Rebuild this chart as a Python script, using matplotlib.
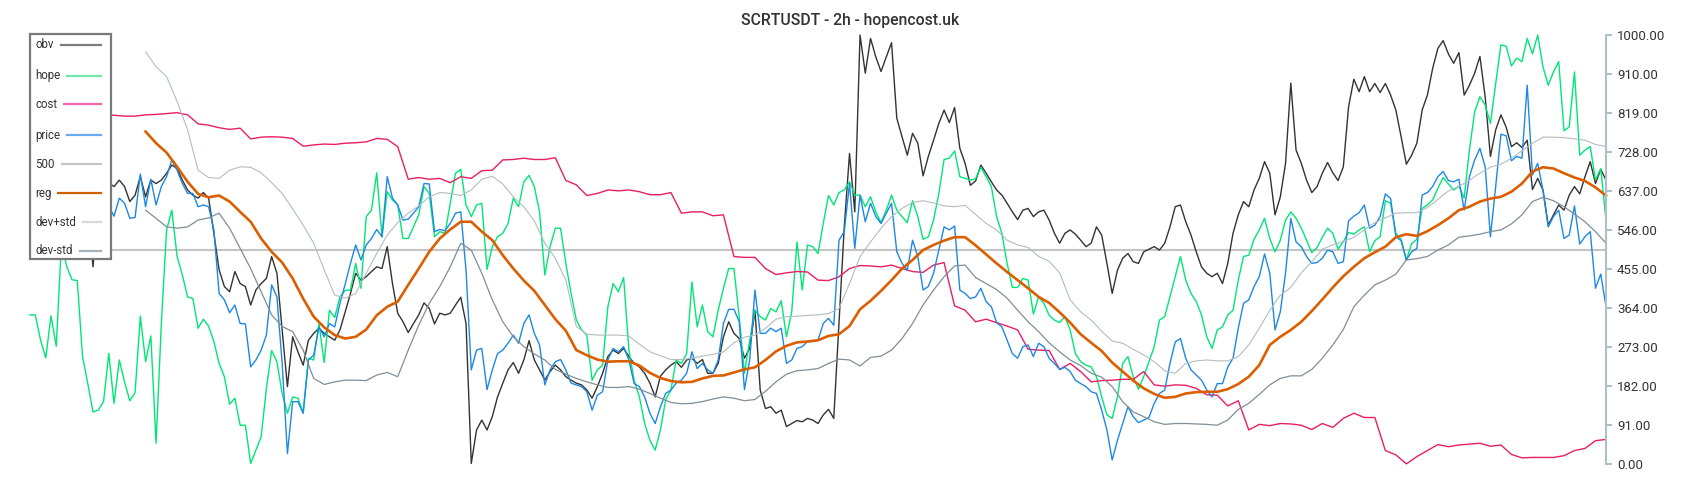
import matplotlib
matplotlib.use("Agg")
import matplotlib.pyplot as plt
from matplotlib.patches import Rectangle
from matplotlib.lines import Line2D
import numpy as np

# === DATA ===
TITLE = "SCRTUSDT - 2h - hopencost.uk"
LEVEL_500 = 500
Y_TICKS = [0, 91, 182, 273, 364, 455, 546, 637, 728, 819, 910, 1000]

# full resolution series (301 bars)
obv = [
    640, 655, 650, 665, 630, 660, 670, 645, 650, 680,
    690, 600, 460, 620, 640, 655, 647, 662, 647, 612,
    627, 670, 623, 662, 654, 662, 678, 697, 689, 662,
    639, 627, 620, 633, 620, 538, 453, 414, 402, 449,
    421, 414, 371, 406, 421, 433, 484, 445, 313, 181,
    297, 262, 231, 289, 305, 317, 305, 297, 289, 313,
    355,
    398, 445, 429, 437, 449, 460, 456, 507, 421,
    352, 332, 307, 328, 348, 376, 363, 327, 352, 348,
    352, 371, 389, 328, 2, 80, 103, 80, 111, 157,
    189, 220, 237, 212, 243, 288, 243, 220, 196, 216,
    231, 220, 204, 196, 189, 185, 173, 154, 181, 212,
    251, 266, 258, 270, 251, 235, 227, 212, 189, 157,
    205,
    220, 231, 239, 226, 243, 247, 235, 244, 212,
    212, 235, 297, 332, 305, 293, 247, 270, 359, 173,
    130, 134, 119, 126, 88, 95, 102, 99, 107, 103,
    95, 115, 128, 107, 328, 553, 724, 588, 1000, 911,
    992, 949, 915, 949, 982, 806, 763, 720, 771, 748,
    672, 717, 755, 794, 825, 796, 831, 736, 701, 650,
    660,
    697, 678, 658, 639, 627, 608, 588, 570, 592,
    596, 577, 588, 592, 569, 538, 515, 538, 546, 536,
    522, 507, 515, 553, 534, 468, 398, 452, 480, 491,
    472, 468, 495, 501, 507, 499, 515, 553, 600, 604,
    565, 534, 495, 460, 445, 437, 445, 421, 468, 538,
    581, 612, 600, 639, 666, 705, 678, 581, 623, 701,
    888,
    732, 701, 662, 633, 647, 678, 703, 679, 661,
    693, 833, 897, 868, 903, 868, 887, 866, 887, 860,
    825, 763, 699, 720, 748, 825, 860, 922, 969, 987,
    956, 934, 959, 860, 883, 911, 950, 856, 717, 779,
    814, 785, 740, 749, 738, 755, 640, 666, 639, 557,
    581, 604, 592, 627, 647, 630, 670, 705, 654, 687,
    662]

hope = [
    348, 348, 290, 248, 346, 275, 520, 460, 430, 428,
    251, 188, 122, 126, 146, 258, 142, 243, 192, 148,
    167, 345, 239, 299, 49, 328, 546, 592, 484, 441,
    390, 386, 317, 338, 322, 286, 235, 204, 140, 154,
    91, 91, 2, 33, 64, 177, 265, 239, 165, 119,
    157, 154, 120, 247, 243, 328, 237, 359, 342, 390,
    405,
    406, 468, 410, 577, 592, 679, 530, 635, 616,
    604, 526, 526, 553, 581, 647, 631, 530, 542, 538,
    608, 678, 687, 604, 577, 604, 608, 454, 507, 530,
    538, 561, 620, 600, 658, 673, 647, 588, 441, 507,
    550, 550, 468, 398, 336, 313, 301, 196, 220, 231,
    367, 421, 402, 435, 266, 196, 157, 95, 56, 33,
    80,
    150, 173, 243, 235, 258, 425, 320, 371, 309,
    297, 359, 410, 456, 456, 344, 212, 289, 359, 344,
    336, 363, 355, 381, 297, 355, 518, 406, 511, 507,
    491, 561, 626, 604, 633, 639, 658, 627, 627, 600,
    623, 588, 563, 592, 627, 592, 577, 563, 614, 577,
    524, 530, 569, 631, 710, 713, 730, 670, 666, 662,
    665,
    692, 670, 647, 577, 538, 468, 412, 412, 433,
    429, 350, 390, 375, 347, 336, 330, 344, 313, 258,
    239, 231, 227, 204, 157, 115, 107, 157, 235, 251,
    204, 175, 204, 239, 274, 336, 344, 390, 437, 484,
    429, 398, 379, 348, 297, 270, 313, 320, 348, 359,
    429, 484, 487, 524, 546, 573, 526, 495, 522, 569,
    588,
    573, 550, 522, 493, 505, 529, 550, 538, 501,
    519, 540, 536, 546, 553, 495, 521, 530, 614, 608,
    538, 524, 476, 514, 524, 596, 604, 616, 643, 668,
    653, 639, 648, 620, 732, 821, 856, 837, 794, 887,
    977, 974, 928, 946, 938, 992, 956, 1000, 926, 883,
    914, 938, 777, 786, 914, 720, 732, 740, 662, 689,
    569]

price = [
    630, 615, 610, 640, 640, 600, 600, 625, 620, 600,
    590, 615, 610, 590, 600, 600, 578, 620, 608, 573,
    575, 676, 600, 664, 604, 647, 670, 709, 685, 654,
    631, 631, 600, 604, 600, 546, 398, 383, 353, 371,
    328, 327, 227, 243, 266, 301, 418, 390, 235, 25,
    146, 146, 119, 243, 254, 320, 297, 328, 320, 375,
    420,
    468, 511, 476, 511, 526, 547, 530, 670, 620,
    604, 569, 571, 585, 600, 654, 653, 542, 547, 544,
    561, 585, 588, 452, 220, 266, 270, 174, 220, 258,
    266, 282, 301, 282, 328, 348, 305, 278, 185, 220,
    239, 244, 220, 189, 185, 181, 169, 126, 161, 169,
    243, 270, 262, 274, 243, 188, 181, 157, 119, 95,
    134,
    165, 173, 189, 196, 212, 262, 223, 235, 220,
    212, 243, 328, 361, 361, 332, 174, 243, 406, 305,
    305, 317, 309, 317, 235, 243, 270, 274, 286, 286,
    289, 328, 340, 324, 522, 542, 654, 503, 627, 565,
    608, 577, 561, 585, 608, 495, 468, 452, 522, 484,
    406, 414, 445, 499, 553, 546, 555, 406, 398, 386,
    390,
    410, 379, 367, 330, 320, 289, 258, 247, 274,
    278, 251, 282, 274, 247, 235, 221, 226, 216, 196,
    188, 181, 169, 165, 126, 80, 10, 56, 95, 134,
    111, 97, 103, 109, 142, 165, 173, 235, 285, 293,
    247, 220, 208, 196, 173, 157, 188, 188, 227, 247,
    317, 375, 383, 414, 437, 490, 445, 313, 355, 445,
    573,
    518, 507, 484, 468, 470, 480, 499, 495, 468,
    472, 567, 578, 586, 604, 550, 557, 577, 630, 619,
    530, 521, 476, 495, 503, 627, 633, 647, 670, 682,
    661, 658, 664, 592, 670, 709, 736, 693, 530, 647,
    769, 765, 707, 717, 713, 883, 674, 701, 639, 553,
    577, 592, 526, 534, 602, 513, 530, 542, 410, 443,
    367]

# half resolution series (every second bar, 151 values)
cost = [812, 814, 813, 815, 814, 812, 813, 814, 813, 811,
        811, 814, 815, 817, 819, 814, 793, 790, 784, 780,
        783, 758, 762, 763, 762, 759, 741, 744, 746, 745,
        748, 749, 751, 759, 757, 740, 664, 668, 664, 666,
        656, 670, 666, 684, 685, 709, 710, 713, 710, 710,
        714, 661, 651, 626, 631, 639, 637, 639, 635, 628,
        628, 633, 585, 588, 588, 579, 581, 484, 482, 482,
        456, 442, 446, 449, 448, 429, 428, 437, 456, 463,
        462, 460, 464, 456, 449, 447, 464, 470, 369, 359,
        332, 338, 330, 322, 313, 268, 266, 265, 221, 235,
        216, 192, 195, 196, 198, 198, 216, 185, 182, 185,
        184, 177, 162, 161, 136, 148, 80, 93, 90, 95,
        94, 91, 81, 95, 86, 107, 119, 109, 109, 32,
        22, 1, 18, 32, 46, 41, 45, 47, 49, 42,
        45, 23, 15, 16, 16, 16, 20, 32, 37, 55,
        58]

reg = [None] * 11 + [
    775, 748, 726, 693, 658, 630, 622, 626, 612,
    588, 565, 526, 495, 470, 433, 386, 344, 319, 301,
    293, 297, 314, 347, 367, 379, 418, 456, 495, 526,
    547, 565, 565, 542, 522, 487, 456, 428, 404, 371,
    338, 311, 266, 254, 244, 239, 240, 240, 230, 213,
    201, 194, 191, 192, 200, 206, 207, 214, 221, 226,
    243, 263, 276, 284, 286, 289, 299, 303, 322, 361,
    381, 404, 429, 456, 476, 499, 511, 521, 529, 529,
    510, 489, 468, 448, 429, 410, 390, 376, 354, 330,
    303, 283, 264, 237, 216, 195, 177, 164, 155, 157,
    165, 168, 169, 169, 175, 187, 204, 231, 278, 297,
    313, 332, 357, 384, 412, 438, 460, 480, 494, 507,
    529, 536, 532, 543, 557, 573, 592, 600, 612, 619,
    623, 635, 654, 682, 692, 689, 678, 668, 660, 645,
    626]

dev_plus = [None] * 11 + [
    961, 926, 903, 845, 779, 685, 668, 666, 685,
    693, 692, 679, 656, 631, 595, 557, 515, 453, 394,
    387, 398, 445, 491, 534, 563, 585, 602, 623, 633,
    631, 626, 639, 664, 671, 653, 623, 600, 567, 515,
    480, 429, 321, 303, 301, 301, 301, 299, 280, 262,
    253, 244, 244, 247, 252, 256, 262, 283, 296, 301,
    317, 338, 344, 345, 347, 348, 351, 363, 421, 484,
    518, 550, 577, 596, 610, 614, 609, 602, 600, 603,
    582, 561, 546, 522, 511, 505, 484, 473, 446, 383,
    355, 336, 310, 287, 282, 268, 255, 239, 218, 212,
    235, 241, 243, 241, 241, 251, 278, 317, 359, 394,
    412, 446, 472, 501, 511, 519, 529, 546, 563, 574,
    585, 586, 586, 598, 617, 637, 647, 662, 678, 692,
    699, 713, 730, 748, 762, 762, 761, 758, 755, 745,
    740]

dev_minus = [None] * 11 + [
    592, 573, 553, 550, 553, 569, 574, 585, 550,
    503, 456, 402, 348, 321, 309, 266, 200, 186, 192,
    196, 196, 195, 208, 214, 204, 266, 324, 375, 414,
    460, 515, 499, 445, 383, 332, 297, 274, 257, 243,
    221, 210, 200, 192, 185, 179, 179, 181, 175, 165,
    154, 144, 141, 142, 146, 152, 157, 154, 148, 151,
    170, 192, 210, 218, 220, 223, 235, 245, 243, 229,
    249, 252, 266, 293, 328, 371, 406, 437, 462, 464,
    435, 421, 407, 387, 359, 332, 309, 283, 262, 243,
    230, 212, 203, 181, 146, 122, 111, 99, 93, 95,
    95, 94, 93, 91, 103, 128, 142, 163, 185, 200,
    206, 206, 221, 247, 278, 314, 367, 394, 418, 429,
    443, 476, 479, 484, 499, 511, 529, 532, 536, 542,
    546, 560, 581, 612, 622, 614, 600, 583, 565, 542,
    515]

# === STYLE ===
W, H = 1700, 500
FONT = ["Roboto", "DejaVu Sans"]
TXT = "#333333"
AXIS_COL = "#b0bec5"

# name, data, step between points, line colour, width, legend swatch colour
series = [
    ("obv", obv, 1, "#333333", 1.0, "#7d7d7d"),
    ("hope", hope, 1, "#00e676", 1.0, "#72e9a8"),
    ("cost", cost, 2, "#e91e63", 1.0, "#ee6aa8"),
    ("price", price, 1, "#1e88e5", 1.0, "#6aaaf0"),
    ("500", None, 1, "#c4c4c4", 1.5, "#c4c4c4"),
    ("reg", reg, 2, "#db5f00", 1.9, "#d35f00"),
    ("dev+std", dev_plus, 2, "#b3bcc2", 0.8, "#d5dadd"),
    ("dev-std", dev_minus, 2, "#7f8e99", 0.9, "#a5b1b8"),
]

plt.rcParams["font.family"] = FONT

fig = plt.figure(figsize=(W / 100, H / 100), dpi=100)
fig.patch.set_facecolor("white")

# plot area in pixels: x 30..1606, y 35..464
ax = fig.add_axes([30 / W, 1 - 464.3 / H, (1606 - 30) / W, (464.3 - 35) / H])

n_bars = len(obv)
for name, data, step, col, lw, _ in series:
    if data is None:
        ax.axhline(LEVEL_500, color=col, lw=lw, zorder=1)
        continue
    y = np.array([np.nan if v is None else v for v in data], dtype=float)
    x = np.arange(len(y)) * step
    ax.plot(x, y, color=col, lw=lw, clip_on=False, zorder=2)

ax.set_xlim(0, n_bars - 1)
ax.set_ylim(0, 1000)
ax.set_facecolor("none")

for s in ["top", "left", "bottom"]:
    ax.spines[s].set_visible(False)
ax.spines["right"].set_color(AXIS_COL)
ax.spines["right"].set_linewidth(1.5)
ax.set_xticks([])
ax.yaxis.tick_right()
ax.set_yticks(Y_TICKS)
ax.set_yticklabels([f"{v:.2f}" for v in Y_TICKS])
ax.tick_params(axis="y", colors=AXIS_COL, length=4, width=1.5, pad=4,
               labelsize=9.5, labelcolor=TXT)

fig.text(0.5, 1 - 20 / H, TITLE, ha="center", va="center",
         fontsize=11.3, color=TXT, fontweight="medium")

# === LEGEND (drawn by hand: text left, swatch right) ===
def fx(px):
    return px / W


def fy(py):
    return 1 - py / H


box = Rectangle((fx(30), fy(259)), fx(111) - fx(30), fy(34) - fy(259),
                transform=fig.transFigure, facecolor="white",
                edgecolor="#7a7a7a", lw=1.6, zorder=10)
fig.add_artist(box)

row_y = [45, 76, 104, 135, 164, 193, 222, 251]
labels = []
for s, ry in zip(series, row_y):
    t = fig.text(fx(35), fy(ry), s[0], ha="left", va="center",
                 fontsize=8.3, color=TXT, zorder=11)
    labels.append(t)

fig.canvas.draw()
renderer = fig.canvas.get_renderer()
for s, t, ry in zip(series, labels, row_y):
    x_end = t.get_window_extent(renderer).x1
    ln = Line2D([fx(x_end + 7), fx(101)], [fy(ry), fy(ry)],
                transform=fig.transFigure, color=s[5], lw=1.6, zorder=11)
    fig.add_artist(ln)

fig.savefig("out.png", dpi=100, facecolor="white")
